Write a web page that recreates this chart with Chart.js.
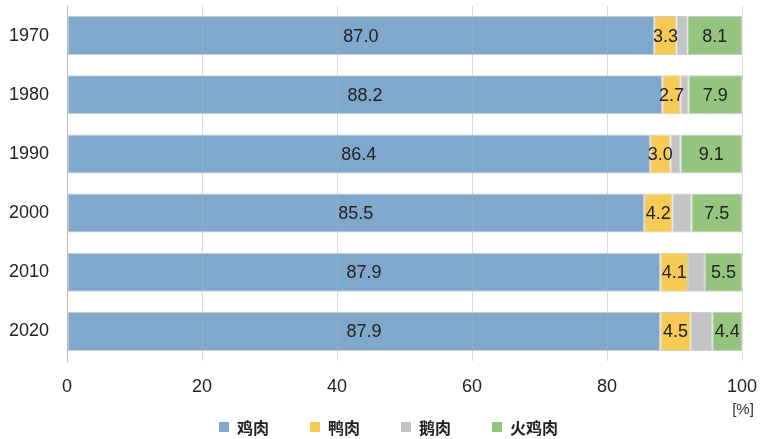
<!DOCTYPE html>
<html>
<head>
<meta charset="utf-8">
<script src="https://cdn.jsdelivr.net/npm/chart.js@4.4.0/dist/chart.umd.min.js"></script>
<style>
html,body{margin:0;padding:0;background:#fff;}
#wrap{width:769px;height:439px;position:relative;}
</style>
</head>
<body>
<div id="wrap"><canvas id="c" width="769" height="439"></canvas></div>
<script>
const years = ['1970','1980','1990','2000','2010','2020'];
const seriesNames = ['鸡肉','鸭肉','鹅肉','火鸡肉'];
const chicken = [87.0, 88.2, 86.4, 85.5, 87.9, 87.9];
const duck = [3.3, 2.7, 3.0, 4.2, 4.1, 4.5];
const goose = [1.6, 1.2, 1.5, 2.8, 2.5, 3.2];
const turkey = [8.1, 7.9, 9.1, 7.5, 5.5, 4.4];
const xTicks = [0, 20, 40, 60, 80, 100];
const unitLabel = '[%]';

const colors = ['#80a8cd', '#f6ca55', '#c3c3c3', '#95c47f'];
const showLabel = [true, true, false, true];
const numFont = '"Liberation Sans", Arial, sans-serif';
const cjkFont = '"Noto Sans CJK SC", sans-serif';

const labelPlugin = {
  id: 'segLabels',
  afterDatasetsDraw(chart) {
    const ctx = chart.ctx;
    ctx.save();
    ctx.font = '18px ' + numFont;
    ctx.fillStyle = '#222';
    ctx.textAlign = 'center';
    ctx.textBaseline = 'middle';
    chart.data.datasets.forEach((ds, di) => {
      if (!showLabel[di]) return;
      const meta = chart.getDatasetMeta(di);
      meta.data.forEach((el, i) => {
        const p = el.getProps(['x', 'y', 'base'], true);
        ctx.fillText(ds.data[i].toFixed(1), (p.x + p.base) / 2, p.y + 1);
      });
    });
    ctx.restore();
  },
  afterDraw(chart) {
    const ctx = chart.ctx;
    const xs = chart.scales.x;
    ctx.save();
    // unit label
    ctx.font = '15px ' + numFont;
    ctx.fillStyle = '#333';
    ctx.textAlign = 'center';
    ctx.textBaseline = 'middle';
    ctx.fillText(unitLabel, xs.right + 1, xs.bottom - 3);
    // legend
    ctx.font = 'bold 16px ' + cjkFont;
    const box = 10, boxGap = 8, itemGap = 41;
    const items = chart.data.datasets.map((ds, i) => ({
      text: ds.label, color: colors[i], w: box + boxGap + ctx.measureText(ds.label).width
    }));
    const total = items.reduce((a, it) => a + it.w, 0) + itemGap * (items.length - 1);
    let x = chart.width / 2 + 4 - total / 2;
    const y = chart.height - 12;
    ctx.textAlign = 'left';
    items.forEach(it => {
      ctx.fillStyle = it.color;
      ctx.fillRect(x, y - box / 2, box, box);
      ctx.fillStyle = '#222';
      ctx.fillText(it.text, x + box + boxGap, y + 1);
      x += it.w + itemGap;
    });
    ctx.restore();
  }
};

const data = {
  labels: years,
  datasets: [chicken, duck, goose, turkey].map((arr, i) => ({
    label: seriesNames[i],
    data: arr,
    backgroundColor: colors[i],
    borderColor: 'rgba(200,200,200,0.9)',
    borderWidth: 1,
    borderSkipped: false,
    barPercentage: 0.66,
    categoryPercentage: 1.0
  }))
};

new Chart(document.getElementById('c'), {
  type: 'bar',
  data,
  options: {
    indexAxis: 'y',
    responsive: false,
    animation: false,
    layout: { padding: { left: 8, right: 27, top: 6, bottom: 26 } },
    scales: {
      x: {
        stacked: true,
        min: 0, max: 100,
        afterBuildTicks(s) { s.ticks = xTicks.map(v => ({ value: v })); },
        afterFit(s) { s.height = 52; s.paddingLeft = 0; s.paddingRight = 0; },
        grid: { color: 'rgba(175,175,175,0.45)', drawTicks: false, z: 1 },
        border: { display: false },
        ticks: { padding: 15, color: '#222', font: { size: 18, family: numFont } }
      },
      y: {
        stacked: true,
        afterFit(s) { s.width = 59; s.paddingTop = 0; s.paddingBottom = 0; },
        grid: { display: false, drawTicks: false },
        border: { display: true, color: '#bdbdbd', width: 1 },
        ticks: { padding: 18, color: '#222', font: { size: 18, family: numFont } }
      }
    },
    plugins: {
      tooltip: { enabled: false },
      legend: { display: false }
    }
  },
  plugins: [labelPlugin]
});
</script>
</body>
</html>
